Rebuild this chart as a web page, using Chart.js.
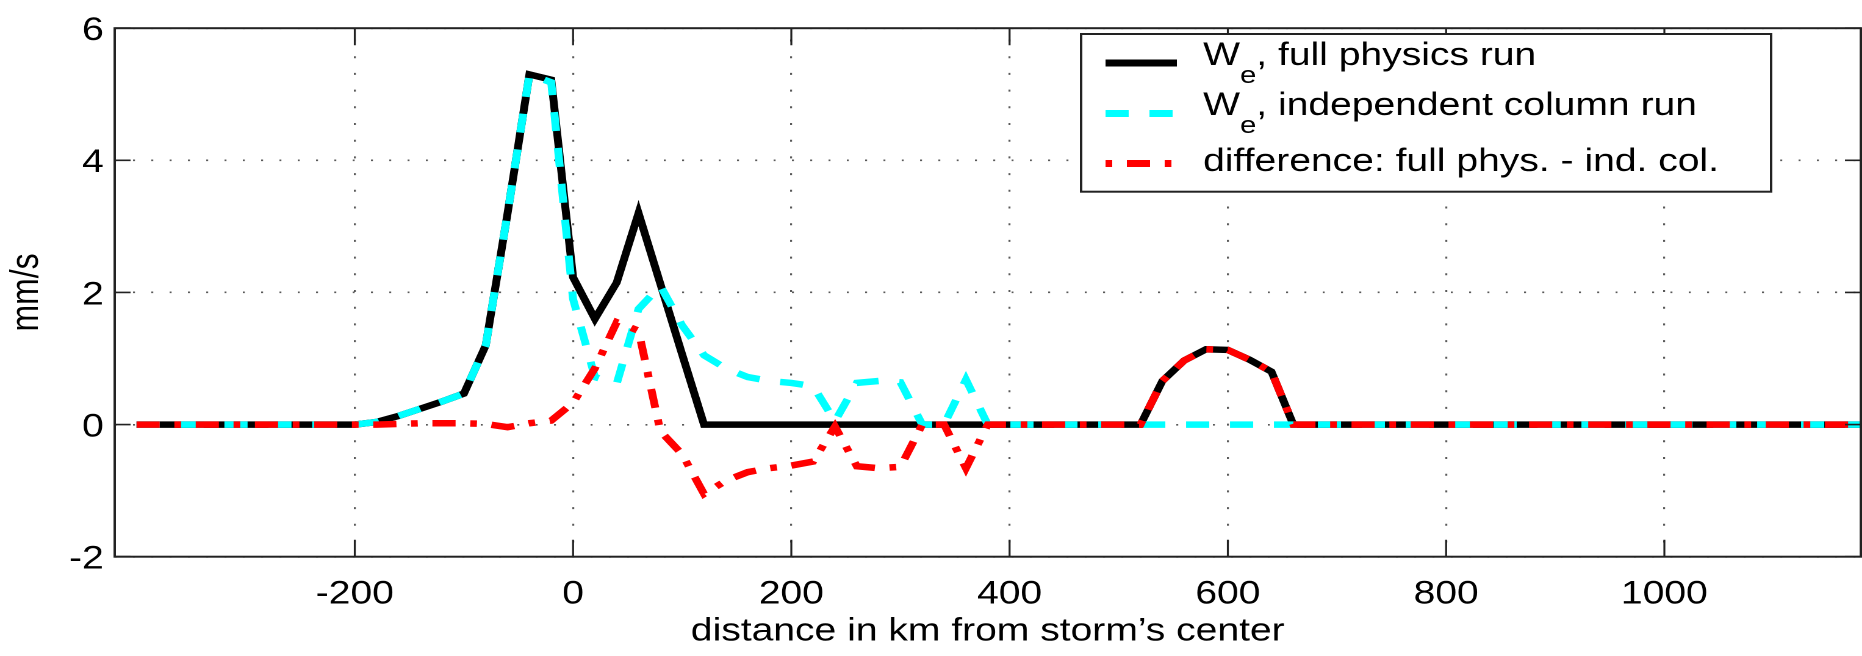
<!DOCTYPE html>
<html>
<head>
<meta charset="utf-8">
<script src="https://cdn.jsdelivr.net/npm/chart.js@4"></script>
<style>
  html, body { margin: 0; padding: 0; background: #fff; overflow: hidden; }
  #wrap { width: 1862px; height: 656px; overflow: hidden; }
  /* the original figure is stretched sideways, so the canvas is too */
  #chart { transform: scaleX(1.2202); transform-origin: 0 0; }
</style>
</head>
<body>
<div id="wrap"><canvas id="chart" width="1526" height="656"></canvas></div>
<script>
// distance from storm centre (km)
const dist = [-400,-380,-360,-340,-320,-300,-280,-260,-240,-220,
  -200,-180,-160,-140,-120,-100,-80,-60,-40,-20,
  0,20,40,60,80,100,120,140,160,180,
  200,220,240,260,280,300,320,340,360,380,
  400,420,440,460,480,500,520,540,560,580,
  600,620,640,660,680,700,720,740,760,780,
  800,820,840,860,880,900,920,940,960,980,
  1000,1020,1040,1060,1080,1100,1120,1140,1160,1180];

// W_e, full physics run (mm/s)
const fullPhys = [0,0,0,0,0,0,0,0,0,0,
  0,0.04,0.13,0.24,0.35,0.47,1.2,3.2,5.3,5.22,
  2.23,1.6,2.15,3.2,2.13,1.06,0,0,0,0,
  0,0,0,0,0,0,0,0,0,0,
  0,0,0,0,0,0,0,0.66,0.97,1.14,
  1.13,0.98,0.8,0,0,0,0,0,0,0,
  0,0,0,0,0,0,0,0,0,0,
  0,0,0,0,0,0,0,0,0,0];

// W_e, independent column run
const indCol = [0,0,0,0,0,0,0,0,0,0,
  0,0.04,0.13,0.24,0.35,0.47,1.2,3.2,5.3,5.18,
  1.9,0.72,0.62,1.75,2.1,1.5,1.05,0.85,0.72,0.66,
  0.63,0.58,0.05,0.63,0.66,0.64,0,0,0.68,0,
  0,0,0,0,0,0,0,0,0,0,
  0,0,0,0,0,0,0,0,0,0,
  0,0,0,0,0,0,0,0,0,0,
  0,0,0,0,0,0,0,0,0,0];

// difference: full phys. - ind. col.
const diffCol = [0,0,0,0,0,0,0,0,0,0,
  0,0,0.01,0.02,0.02,0.02,0.01,-0.04,0.02,0.06,
  0.33,0.85,1.55,1.42,-0.1,-0.45,-1.05,-0.85,-0.72,-0.66,
  -0.62,-0.56,-0.03,-0.63,-0.66,-0.64,0,0,-0.66,0,
  0,0,0,0,0,0,0,0.66,0.97,1.14,
  1.13,0.98,0.8,0,0,0,0,0,0,0,
  0,0,0,0,0,0,0,0,0,0,
  0,0,0,0,0,0,0,0,0,0];

const seriesLabels = ['W_e, full physics run', 'W_e, independent column run', 'difference: full phys. - ind. col.'];
const xTicks = [-200, 0, 200, 400, 600, 800, 1000];
const yTicks = [-2, 0, 2, 4, 6];

const FONT = 'Liberation Sans, Arial, Helvetica, sans-serif';

function pts(vals) {
  return dist.map((d, i) => ({ x: d, y: vals[i] }));
}

// axes box with inward ticks on all four sides (matlab style)
const frame = {
  id: 'frame',
  afterDatasetsDraw(chart) {
    const { ctx, chartArea: a, scales: { x, y } } = chart;
    ctx.save();
    ctx.strokeStyle = '#222';
    ctx.lineWidth = 1.6;
    xTicks.forEach(v => {
      const px = x.getPixelForValue(v);
      ctx.beginPath();
      ctx.moveTo(px, a.bottom); ctx.lineTo(px, a.bottom - 17);
      ctx.moveTo(px, a.top); ctx.lineTo(px, a.top + 17);
      ctx.stroke();
    });
    yTicks.forEach(v => {
      const py = y.getPixelForValue(v);
      ctx.beginPath();
      ctx.moveTo(a.left, py); ctx.lineTo(a.left + 13, py);
      ctx.moveTo(a.right, py); ctx.lineTo(a.right - 13, py);
      ctx.stroke();
    });
    ctx.lineWidth = 2;
    ctx.strokeRect(a.left, a.top, a.right - a.left, a.bottom - a.top);
    ctx.restore();
  }
};

// boxed legend, with the subscript in "W_e"
const legendBox = {
  id: 'legendBox',
  afterDraw(chart) {
    const ctx = chart.ctx;
    const lineY = [63, 113.5, 163.5];
    const textY = [65, 115, 171];
    ctx.save();
    ctx.fillStyle = '#fff';
    ctx.fillRect(886, 34, 565.5, 157.7);
    ctx.strokeStyle = '#222';
    ctx.lineWidth = 2;
    ctx.strokeRect(886, 34, 565.5, 157.7);
    chart.data.datasets.forEach((ds, i) => {
      ctx.strokeStyle = ds.borderColor;
      ctx.lineWidth = ds.borderWidth + 0.5;
      ctx.setLineDash(ds.borderDash || []);
      ctx.lineDashOffset = ds.legendDashOffset || 0;
      ctx.beginPath();
      ctx.moveTo(906, lineY[i]);
      ctx.lineTo(964.5, lineY[i]);
      ctx.stroke();
      ctx.setLineDash([]);

      ctx.fillStyle = '#000';
      ctx.textBaseline = 'alphabetic';
      ctx.textAlign = 'left';
      let tx = 986;
      const m = ds.label.match(/^(.*?)_(\w)(.*)$/);
      ctx.font = '32px ' + FONT;
      if (m) {
        ctx.fillText(m[1], tx, textY[i]);
        tx += ctx.measureText(m[1]).width;
        ctx.font = '24px ' + FONT;
        ctx.fillText(m[2], tx, textY[i] + 18);
        tx += ctx.measureText(m[2]).width;
        ctx.font = '32px ' + FONT;
        ctx.fillText(m[3], tx, textY[i]);
      } else {
        ctx.fillText(ds.label, tx, textY[i]);
      }
    });
    ctx.restore();
  }
};

new Chart(document.getElementById('chart'), {
  type: 'line',
  data: {
    datasets: [
      { label: seriesLabels[0], data: pts(fullPhys), borderColor: '#000000', borderWidth: 6.5, order: 3 },
      { label: seriesLabels[1], data: pts(indCol), borderColor: '#00ffff', borderWidth: 6.5, borderDash: [19, 17], order: 2 },
      { label: seriesLabels[2], data: pts(diffCol), borderColor: '#ff0000', borderWidth: 6.5, borderDash: [19, 12, 5.5, 12], legendDashOffset: 31, order: 1 }
    ]
  },
  options: {
    responsive: false,
    devicePixelRatio: 2,
    animation: false,
    layout: { padding: { top: 24, right: 1, left: 0, bottom: 0 } },
    elements: { point: { radius: 0 }, line: { tension: 0, fill: false } },
    plugins: { legend: { display: false }, tooltip: { enabled: false } },
    scales: {
      x: {
        type: 'linear',
        min: -420,
        max: 1180,
        afterBuildTicks: s => { s.ticks = xTicks.map(v => ({ value: v })); },
        afterFit: s => { s.height = 99.3; },
        grid: { color: 'rgba(60,60,60,0.85)', lineWidth: 1.6, drawTicks: false },
        border: { display: false, dash: [2, 14.7], dashOffset: 5.4 },
        ticks: { color: '#000', font: { family: FONT, size: 32 }, padding: 19, maxRotation: 0, callback: v => String(v) },
        title: { display: true, text: 'distance in km from storm\u2019s center', color: '#000', font: { family: FONT, size: 32 }, padding: { top: 0, bottom: 5 } }
      },
      y: {
        min: -2,
        max: 6,
        afterBuildTicks: s => { s.ticks = yTicks.map(v => ({ value: v })); },
        afterFit: s => { s.width = 94; },
        grid: { color: 'rgba(60,60,60,0.85)', lineWidth: 1.6, drawTicks: false },
        border: { display: false, dash: [1.6, 13.4] },
        ticks: { color: '#000', font: { family: FONT, size: 32 }, padding: 9, labelOffset: 3, callback: v => String(v) },
        title: { display: true, text: 'mm/s', color: '#000', font: { family: FONT, size: 32 }, padding: { top: 3, bottom: 0 } }
      }
    }
  },
  plugins: [frame, legendBox]
});
</script>
</body>
</html>
